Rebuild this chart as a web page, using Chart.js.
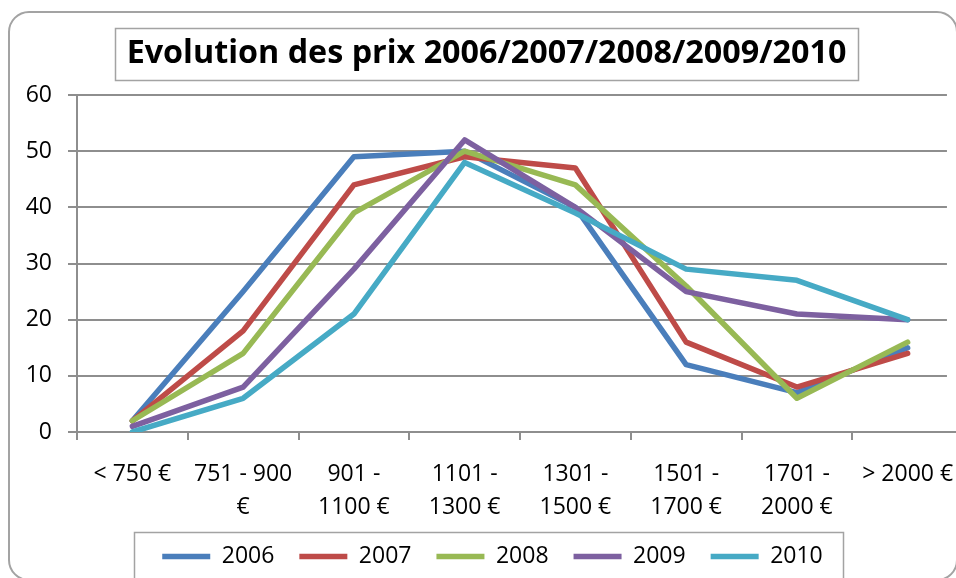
<!DOCTYPE html>
<html>
<head>
<meta charset="utf-8">
<script src="https://cdn.jsdelivr.net/npm/chart.js@4.4.0/dist/chart.umd.min.js"></script>
<style>
  html, body { margin: 0; padding: 0; overflow: hidden; background: #fff; }
  #c { display: block; width: 956px; height: 578px; }
</style>
</head>
<body>
<canvas id="c" width="956" height="578"></canvas>
<script>
const titleText = 'Evolution des prix 2006/2007/2008/2009/2010';
const categories = [
  ['< 750 €'],
  ['751 - 900', '€'],
  ['901 -', '1100 €'],
  ['1101 -', '1300 €'],
  ['1301 -', '1500 €'],
  ['1501 -', '1700 €'],
  ['1701 -', '2000 €'],
  ['> 2000 €']
];
const seriesNames = ['2006', '2007', '2008', '2009', '2010'];
const values2006 = [2, 25, 49, 50, 40, 12, 7, 15];
const values2007 = [2, 18, 44, 49, 47, 16, 8, 14];
const values2008 = [2, 14, 39, 50, 44, 26, 6, 16];
const values2009 = [1, 8, 29, 52, 40, 25, 21, 20];
const values2010 = [0, 6, 21, 48, 39, 29, 27, 20];
const yTicks = [0, 10, 20, 30, 40, 50, 60];

const seriesValues = [values2006, values2007, values2008, values2009, values2010];
const colors = ['#4A7EBB', '#BE4B48', '#98B954', '#7D60A0', '#46AAC5'];

const FONT = '"Open Sans", "DejaVu Sans", sans-serif';
const GRID = '#8e8e8e';
const BOX = '#a3a3a3';

// fit title font size to reference width
const mctx = document.createElement('canvas').getContext('2d');
mctx.font = 'bold 100px ' + FONT;
const titleSize = Math.round(100 * 719 / mctx.measureText(titleText).width * 10) / 10;

// the plot area in the original runs a little past the right edge of the picture
const extendX = {
  id: 'extendX',
  afterLayout(chart) {
    const s = chart.scales.x;
    s.right = s.left + 886;
    s.width = 886;
    s.configure();
    const lg = chart.legend;
    lg.left += 6;
    lg.right += 6;
    lg.adjustHitBoxes();
  }
};

const frames = {
  id: 'frames',
  beforeDraw(chart) {
    const ctx = chart.ctx;
    ctx.save();
    ctx.strokeStyle = BOX;
    ctx.lineWidth = 2;
    ctx.beginPath();
    ctx.roundRect(9, 12, 948, 568, 20);
    ctx.stroke();
    ctx.restore();
  },
  afterDraw(chart) {
    const ctx = chart.ctx;
    ctx.save();
    ctx.strokeStyle = BOX;
    ctx.lineWidth = 1.5;
    // title box
    const tb = chart.titleBlock;
    ctx.font = 'bold ' + titleSize + 'px ' + FONT;
    const tw = ctx.measureText(titleText).width;
    const cx = (tb.left + tb.right) / 2;
    const cy = tb.top + 34 + 20;
    ctx.strokeRect(Math.round(cx - tw / 2 - 12) + 0.5, Math.round(cy - 26) + 0.5, Math.round(tw + 23), 52);
    // legend box
    const lg = chart.legend;
    const hb = lg.legendHitBoxes;
    const l = hb[0].left - 28;
    const r = hb[hb.length - 1].left + hb[hb.length - 1].width + 20;
    ctx.strokeRect(Math.round(l) + 0.5, Math.round(lg.top + 12) + 0.5, Math.round(r - l), 60);
    ctx.restore();
  }
};

new Chart(document.getElementById('c'), {
  type: 'line',
  data: {
    labels: categories,
    datasets: seriesNames.map((name, i) => ({
      label: name,
      data: seriesValues[i],
      borderColor: colors[i],
      backgroundColor: colors[i],
      borderWidth: 5.5,
      borderCapStyle: 'round',
      borderJoinStyle: 'round',
      pointRadius: 0,
      pointHoverRadius: 0,
      tension: 0,
      fill: false,
      order: seriesNames.length - i
    }))
  },
  options: {
    responsive: false,
    maintainAspectRatio: false,
    devicePixelRatio: 1,
    animation: false,
    events: [],
    layout: { padding: { left: 17, right: 0, top: 0, bottom: 0 } },
    plugins: {
      tooltip: { enabled: false },
      title: {
        display: true,
        text: titleText,
        color: '#000',
        font: { family: FONT, size: titleSize, weight: 'bold', lineHeight: '40px' },
        padding: { top: 34, bottom: 21 }
      },
      legend: {
        display: true,
        position: 'bottom',
        labels: {
          usePointStyle: true,
          pointStyle: 'line',
          pointStyleWidth: 48,
          padding: 25,
          color: '#000',
          font: { family: FONT, size: 23 },
          sort: (a, b) => a.datasetIndex - b.datasetIndex
        }
      }
    },
    scales: {
      x: {
        type: 'category',
        offset: true,
        afterFit(scale) { scale.height = 88; },
        grid: { display: true, drawOnChartArea: false, drawTicks: true, tickLength: 8, offset: true, color: GRID, lineWidth: 2 },
        border: { display: true, color: GRID, width: 2 },
        ticks: {
          color: '#000',
          padding: 18,
          maxRotation: 0,
          autoSkip: false,
          font: { family: FONT, size: 23, lineHeight: '33px' }
        }
      },
      y: {
        min: 0,
        max: 60,
        afterFit(scale) { scale.width = 60; },
        afterBuildTicks(scale) { scale.ticks = yTicks.map(v => ({ value: v })); },
        grid: { display: true, drawTicks: true, tickLength: 9, color: GRID, lineWidth: 2 },
        border: { display: true, color: GRID, width: 2 },
        ticks: {
          color: '#000',
          padding: 16,
          font: { family: FONT, size: 23 }
        }
      }
    }
  },
  plugins: [extendX, frames]
});
</script>
</body>
</html>
